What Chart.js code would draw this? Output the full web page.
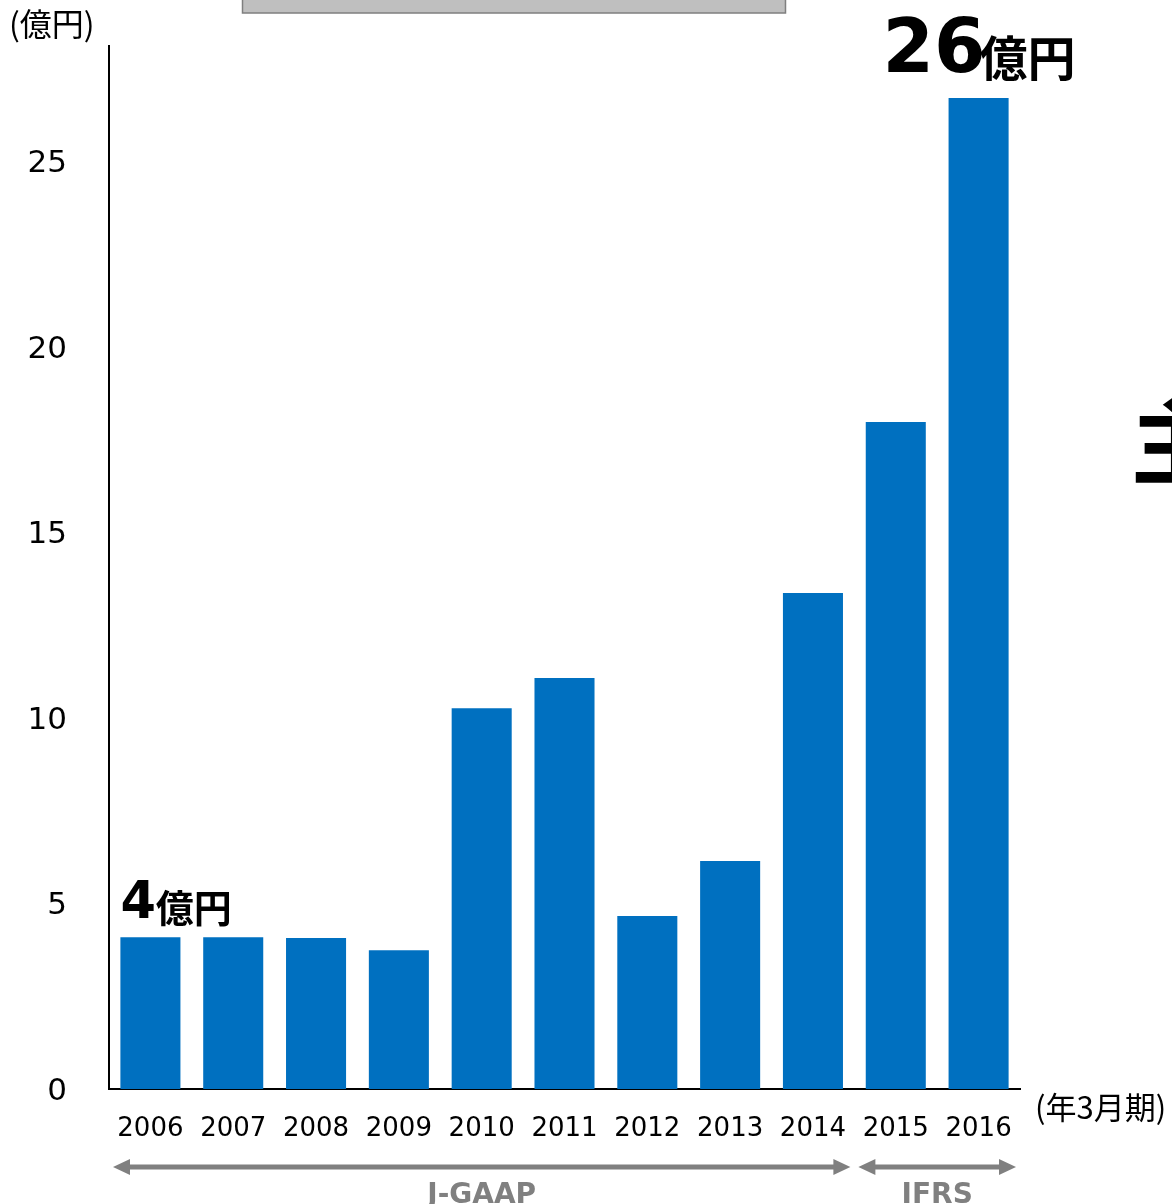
<!DOCTYPE html>
<html>
<head>
<meta charset="utf-8">
<script src="https://cdn.jsdelivr.net/npm/chart.js@4.4.1/dist/chart.umd.min.js"></script>
<style>
  html, body { margin: 0; padding: 0; background: #fff; }
  #wrap { width: 1172px; height: 1204px; position: relative; overflow: hidden; }
  canvas { display: block; }
</style>
</head>
<body>
<div id="wrap"><canvas id="c" width="1172" height="1204"></canvas></div>
<script>
// ---- data ----
const categories = ['2006', '2007', '2008', '2009', '2010', '2011', '2012', '2013', '2014', '2015', '2016'];
const profitValues = [4.09, 4.09, 4.07, 3.74, 10.26, 11.07, 4.66, 6.14, 13.36, 17.97, 26.70];
const yTickValues = [0, 5, 10, 15, 20, 25];
const yAxisMax = 28.1;
const yUnitLabel = '(億円)';
const xUnitLabel = '(年3月期)';
const firstCallout = { index: 0, num: '4', unit: '億円' };
const lastCallout = { index: 10, num: '26', unit: '億円' };
const standards = [
  { label: 'J-GAAP', from: 0, to: 8 },
  { label: 'IFRS', from: 9, to: 10 }
];

const BAR_COLOR = '#0070C0';
const GRAY = '#808080';

const annotations = {
  id: 'annotations',
  afterDraw(chart) {
    const ctx = chart.ctx;
    const xs = chart.scales.x;
    const area = chart.chartArea;
    const catW = (area.right - area.left) / categories.length;
    ctx.save();

    // partial gray box at top (cropped element of source slide)
    ctx.fillStyle = '#BFBFBF';
    ctx.fillRect(242, -2, 543, 15);
    ctx.strokeStyle = '#7F7F7F';
    ctx.lineWidth = 1.5;
    ctx.strokeRect(242.5, -2, 543, 15);

    // y unit label
    ctx.fillStyle = '#000';
    ctx.font = '32px "Noto Sans CJK JP"';
    ctx.textAlign = 'left';
    ctx.textBaseline = 'middle';
    ctx.fillText(yUnitLabel, 9, 24);

    // x unit label
    ctx.font = '31px "Noto Sans CJK JP"';
    ctx.fillText(xUnitLabel, area.right + 15, 1107);

    // callout: first bar
    {
      const meta = chart.getDatasetMeta(0).data[firstCallout.index];
      const left = meta.x - meta.width / 2;
      const top = meta.y;
      ctx.textBaseline = 'alphabetic';
      ctx.font = 'bold 51px "DejaVu Sans"';
      ctx.fillText(firstCallout.num, left + 0, top - 19);
      const w = ctx.measureText(firstCallout.num).width;
      ctx.font = 'bold 38px "Noto Sans CJK JP"';
      ctx.fillText(firstCallout.unit, left + w - 0, top - 15);
    }
    // callout: last bar
    {
      const meta = chart.getDatasetMeta(0).data[lastCallout.index];
      const cx = meta.x;
      const top = meta.y;
      ctx.textBaseline = 'alphabetic';
      ctx.font = 'bold 74px "DejaVu Sans"';
      const w = ctx.measureText(lastCallout.num).width;
      const startX = cx - 96;
      ctx.fillText(lastCallout.num, startX, top - 26);
      ctx.font = 'bold 48px "Noto Sans CJK JP"';
      ctx.fillText(lastCallout.unit, startX + w - 6, top - 22);
    }

    // accounting standard arrows
    const arrowY = 1167;
    ctx.strokeStyle = GRAY;
    ctx.fillStyle = GRAY;
    ctx.lineWidth = 5;
    standards.forEach(s => {
      const x1 = xs.getPixelForValue(s.from) - catW / 2 + 4;
      const x2 = xs.getPixelForValue(s.to) + catW / 2 - 4;
      const head = 17, hh = 8;
      ctx.beginPath();
      ctx.moveTo(x1 + head - 2, arrowY);
      ctx.lineTo(x2 - head + 2, arrowY);
      ctx.stroke();
      ctx.beginPath();
      ctx.moveTo(x1, arrowY);
      ctx.lineTo(x1 + head, arrowY - hh);
      ctx.lineTo(x1 + head, arrowY + hh);
      ctx.closePath();
      ctx.fill();
      ctx.beginPath();
      ctx.moveTo(x2, arrowY);
      ctx.lineTo(x2 - head, arrowY - hh);
      ctx.lineTo(x2 - head, arrowY + hh);
      ctx.closePath();
      ctx.fill();
      ctx.font = 'bold 28px "DejaVu Sans"';
      ctx.textAlign = 'center';
      ctx.textBaseline = 'alphabetic';
      ctx.fillText(s.label, (x1 + x2) / 2, 1203);
    });

    // cropped large character at right edge
    ctx.fillStyle = '#000';
    ctx.textAlign = 'left';
    ctx.textBaseline = 'alphabetic';
    ctx.font = 'bold 92px "Noto Sans CJK JP"';
    ctx.fillText('主', 1131, 477);

    ctx.restore();
  }
};

new Chart(document.getElementById('c'), {
  type: 'bar',
  data: {
    labels: categories,
    datasets: [{
      data: profitValues,
      backgroundColor: BAR_COLOR,
      borderWidth: 0,
      barPercentage: 0.725,
      categoryPercentage: 1.0
    }]
  },
  options: {
    responsive: false,
    animation: false,
    devicePixelRatio: 1,
    layout: { padding: { top: 46, right: 152, left: 0, bottom: 0 } },
    plugins: { legend: { display: false }, tooltip: { enabled: false } },
    scales: {
      x: {
        grid: { display: false, drawTicks: false },
        border: { display: true, color: '#000', width: 2 },
        ticks: {
          color: '#000',
          font: { family: 'DejaVu Sans', size: 26 },
          padding: 25,
          maxRotation: 0,
          autoSkip: false
        },
        afterFit(scale) { scale.height = 115; scale.paddingLeft = 0; scale.paddingRight = 0; }
      },
      y: {
        min: 0,
        max: yAxisMax,
        grid: { display: false, drawTicks: false },
        border: { display: true, color: '#000', width: 2 },
        ticks: {
          color: '#000',
          font: { family: 'DejaVu Sans', size: 31 },
          padding: 42,
          labelOffset: 3,
          stepSize: 5
        },
        afterBuildTicks(scale) {
          scale.ticks = yTickValues.map(v => ({ value: v }));
        },
        afterFit(scale) { scale.width = 109; scale.paddingTop = 0; scale.paddingBottom = 0; }
      }
    }
  },
  plugins: [annotations]
});
</script>
</body>
</html>
